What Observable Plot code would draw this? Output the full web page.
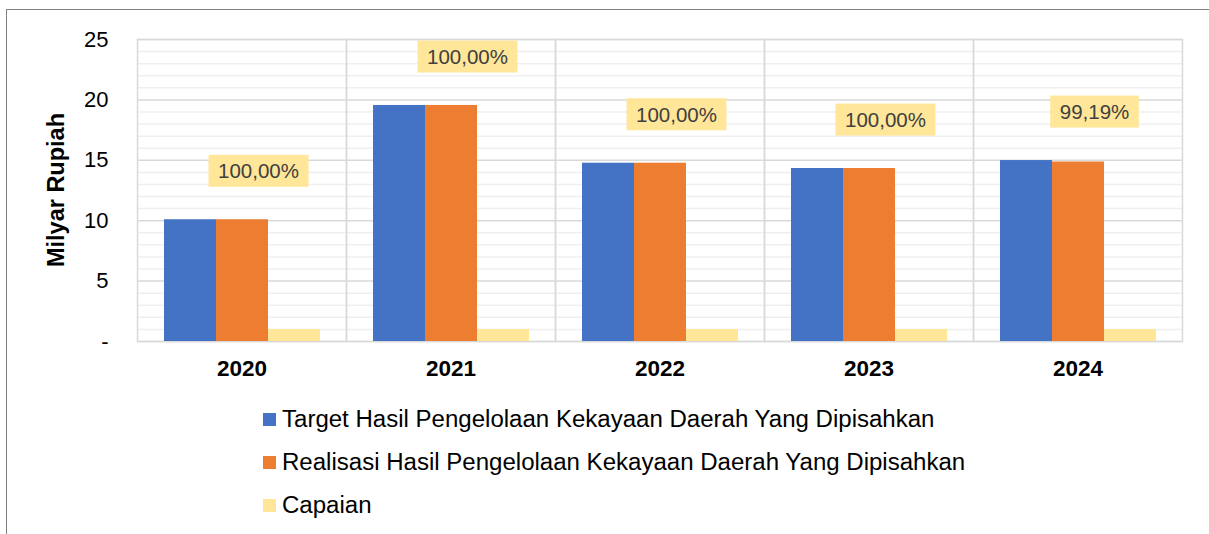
<!DOCTYPE html>
<html>
<head>
<meta charset="utf-8">
<script src="https://cdn.jsdelivr.net/npm/d3@7"></script>
<script src="https://cdn.jsdelivr.net/npm/@observablehq/plot@0.6"></script>
<style>
  html, body { margin: 0; padding: 0; background: #fff; }
  #wrap { position: relative; width: 1209px; height: 534px; overflow: hidden; font-family: "Liberation Sans", Arial, sans-serif; }
  #borderTop { position: absolute; left: 6px; top: 9px; width: 1203px; height: 0; border-top: 1.5px solid #808080; }
  #borderLeft { position: absolute; left: 6px; top: 9px; width: 0; height: 525px; border-left: 1.5px solid #808080; }
  #chart { position: absolute; left: 0; top: 0; }
  #ytitle { position: absolute; left: 56px; top: 190px; transform: translate(-50%, -50%) rotate(-90deg); font-weight: bold; font-size: 23.5px; white-space: nowrap; color: #000; }
  #legend { position: absolute; left: 263px; top: 406px; }
  .lg-row { position: relative; height: 43px; }
  .lg-sw { position: absolute; left: 0; top: 7px; width: 13px; height: 13px; }
  .lg-tx { position: absolute; left: 19px; top: 0; font-size: 23px; line-height: 27px; white-space: nowrap; transform: scaleX(1.045); transform-origin: left center; color: #000; }
</style>
</head>
<body>
<div id="wrap">
  <div id="borderTop"></div>
  <div id="borderLeft"></div>
  <div id="chart"></div>
  <div id="ytitle">Milyar Rupiah</div>
  <div id="legend"></div>
</div>
<script>
// ---- data ----
const years = ["2020", "2021", "2022", "2023", "2024"];
const target = [10.08, 19.54, 14.76, 14.32, 14.98];
const realisasi = [10.08, 19.54, 14.76, 14.32, 14.86];
const capaian = [1.0, 1.0, 1.0, 1.0, 0.9919];
const seriesNames = [
  "Target Hasil Pengelolaan Kekayaan Daerah Yang Dipisahkan",
  "Realisasi Hasil Pengelolaan Kekayaan Daerah Yang Dipisahkan",
  "Capaian"
];
const colors = ["#4472C4", "#ED7D31", "#FFE699"];
const majorTicks = [0, 5, 10, 15, 20, 25];
const minorTicks = d3.range(0, 26).filter(v => v % 5 !== 0);

// ---- derived tables ----
const rows = years.flatMap((yr, i) => [
  {year: yr, series: seriesNames[0], value: target[i]},
  {year: yr, series: seriesNames[1], value: realisasi[i]},
  {year: yr, series: seriesNames[2], value: capaian[i]}
]);
const fmtPct = v => (v * 100).toFixed(2).replace(".", ",") + "%";
const labels = years.map((yr, i) => ({
  year: yr, series: seriesNames[1], top: Math.max(target[i], realisasi[i]), text: fmtPct(capaian[i])
}));

const chart = Plot.plot({
  width: 1209,
  height: 390,
  marginLeft: 137,
  marginRight: 27,
  marginTop: 39,
  marginBottom: 49,
  style: {fontFamily: "Liberation Sans, Arial, sans-serif", background: "transparent", color: "#000", overflow: "visible"},
  fx: {domain: years, padding: 0, label: null},
  x: {domain: seriesNames, paddingInner: 0, paddingOuter: 0.5, axis: null},
  y: {domain: [0, 25], label: null},
  color: {domain: seriesNames, range: colors},
  marks: [
    Plot.ruleY(minorTicks, {stroke: "#efefef", strokeWidth: 1.5}),
    Plot.ruleY(majorTicks, {stroke: "#d9d9d9", strokeWidth: 1.5}),
    Plot.frame({stroke: "#d9d9d9", strokeWidth: 1.5}),
    Plot.barY(rows, {fx: "year", x: "series", y: "value", fill: "series"}),
    Plot.axisY({ticks: majorTicks, tickFormat: d => d === 0 ? "-" : String(d), tickSize: 0, tickPadding: 29, fontSize: 22, label: null}),
    Plot.axisFx({anchor: "bottom", tickSize: 0, tickPadding: 19, fontSize: 22.5, fontWeight: "bold", label: null}),
    Plot.text(labels, {fx: "year", x: "series", y: "top", text: "text", dx: 16, dy: -48, fontSize: 20.5, fill: "#404040"})
  ]
});
document.getElementById("chart").appendChild(chart);

// label background boxes
const svgNS = "http://www.w3.org/2000/svg";
chart.querySelectorAll('g[aria-label="text"] text').forEach(t => {
  const bb = t.getBBox();
  const r = document.createElementNS(svgNS, "rect");
  const h = 32;
  r.setAttribute("x", bb.x - 9.5);
  r.setAttribute("y", bb.y + bb.height / 2 - h / 2);
  r.setAttribute("width", bb.width + 19);
  r.setAttribute("height", h);
  r.setAttribute("fill", colors[2]);
  if (t.getAttribute("transform")) r.setAttribute("transform", t.getAttribute("transform"));
  t.parentNode.insertBefore(r, t);
});

// legend
const legend = document.getElementById("legend");
seriesNames.forEach((name, i) => {
  const row = document.createElement("div");
  row.className = "lg-row";
  const sw = document.createElement("div");
  sw.className = "lg-sw";
  sw.style.background = colors[i];
  const tx = document.createElement("div");
  tx.className = "lg-tx";
  tx.textContent = name;
  row.appendChild(sw);
  row.appendChild(tx);
  legend.appendChild(row);
});
</script>
</body>
</html>
